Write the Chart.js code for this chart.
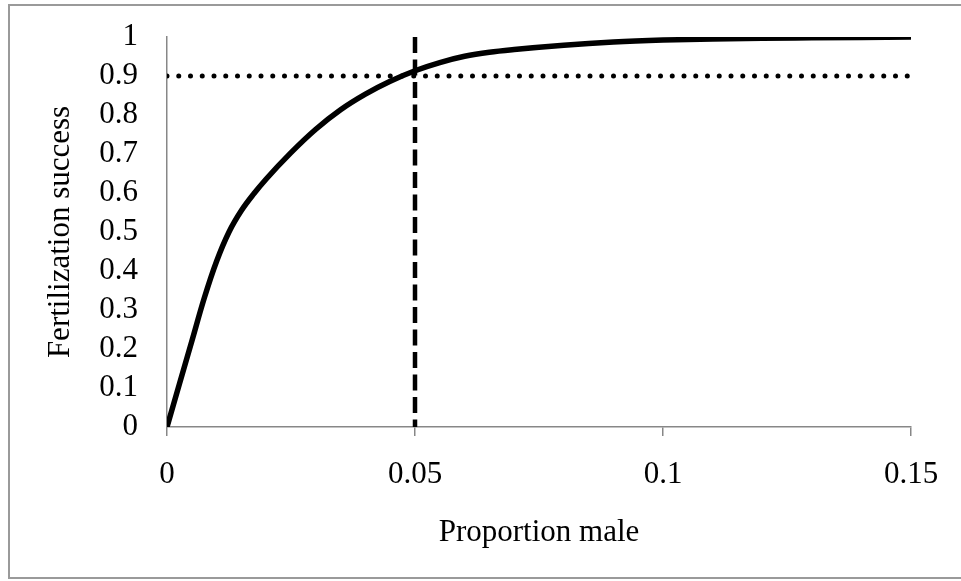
<!DOCTYPE html>
<html>
<head>
<meta charset="utf-8">
<script src="https://cdn.jsdelivr.net/npm/chart.js@4/dist/chart.umd.min.js"></script>
<style>
  html, body { margin: 0; padding: 0; background: #fff; }
  #wrap { width: 961px; height: 581px; position: relative; }
</style>
</head>
<body>
<div id="wrap"><canvas id="c"></canvas></div>
<script>
// ---- data ----
const proportionMale = [0, 0.0025, 0.005, 0.0075, 0.01, 0.0125, 0.015, 0.0175, 0.02, 0.025, 0.03, 0.035, 0.04, 0.045, 0.05, 0.055, 0.06, 0.065, 0.07, 0.08, 0.09, 0.1, 0.11, 0.12, 0.13, 0.14, 0.15];
const fertilizationSuccess = [0, 0.11, 0.22, 0.33, 0.425, 0.5, 0.555, 0.598, 0.636, 0.7035, 0.7635, 0.8135, 0.8535, 0.8865, 0.9135, 0.9345, 0.9505, 0.961, 0.968, 0.979, 0.987, 0.992, 0.995, 0.997, 0.998, 0.999, 1.0];
const thresholdX = [0, 0.15];
const thresholdY = [0.9, 0.9];
const cutoffX = [0.05, 0.05];
const cutoffY = [1, 0];
const xTickValues = [0, 0.05, 0.1, 0.15];
const xTickLabels = ['0', '0.05', '0.1', '0.15'];
const yTickValues = [0, 0.1, 0.2, 0.3, 0.4, 0.5, 0.6, 0.7, 0.8, 0.9, 1];
const yTickLabels = ['0', '0.1', '0.2', '0.3', '0.4', '0.5', '0.6', '0.7', '0.8', '0.9', '1'];
const xTitle = 'Proportion male';
const yTitle = 'Fertilization success';

const toPts = (xs, ys) => xs.map((x, i) => ({ x: x, y: ys[i] }));
const FONT = 'Liberation Serif, Times New Roman, serif';
const AXIS = '#878787';

const framePlugin = {
  id: 'frame',
  beforeDraw(chart) {
    const ctx = chart.ctx;
    ctx.save();
    ctx.fillStyle = '#fff';
    ctx.fillRect(0, 0, chart.width, chart.height);
    ctx.strokeStyle = '#9a9a9a';
    ctx.lineWidth = 2;
    ctx.strokeRect(9, 5, 1000, 573);
    ctx.restore();
  }
};

new Chart(document.getElementById('c'), {
  type: 'scatter',
  data: {
    datasets: [
      {
        data: toPts(thresholdX, thresholdY),
        showLine: true,
        borderColor: '#000',
        borderWidth: 5,
        borderDash: [0, 11.75],
        borderCapStyle: 'round',
        pointRadius: 0,
        order: 3
      },
      {
        data: toPts(cutoffX, cutoffY),
        showLine: true,
        borderColor: '#000',
        borderWidth: 4.5,
        borderDash: [16, 6.5],
        borderCapStyle: 'butt',
        pointRadius: 0,
        clip: false,
        order: 2
      },
      {
        data: toPts(proportionMale, fertilizationSuccess),
        showLine: true,
        borderColor: '#000',
        borderWidth: 5.5,
        cubicInterpolationMode: 'monotone',
        pointRadius: 0,
        order: 1
      }
    ]
  },
  options: {
    responsive: true,
    maintainAspectRatio: false,
    animation: false,
    events: [],
    layout: { padding: { top: 37, right: 50, left: 0, bottom: 0 } },
    plugins: { legend: { display: false }, tooltip: { enabled: false } },
    scales: {
      x: {
        type: 'linear',
        min: 0, max: 0.15,
        afterFit(s) { s.height = 154; },
        afterBuildTicks(s) { s.ticks = xTickValues.map(v => ({ value: v })); },
        grid: { drawOnChartArea: false, drawTicks: true, tickLength: 9, color: AXIS, lineWidth: 1.5 },
        border: { display: true, color: AXIS, width: 1.5 },
        ticks: {
          color: '#000', padding: 20, maxRotation: 0, autoSkip: false,
          font: { family: FONT, size: 31 },
          callback: (v, i) => xTickLabels[i]
        },
        title: {
          display: true, text: xTitle, color: '#000',
          font: { family: FONT, size: 31 },
          padding: { top: 0, bottom: 30 }
        }
      },
      y: {
        type: 'linear',
        min: 0, max: 1,
        afterFit(s) { s.width = 167; },
        afterBuildTicks(s) { s.ticks = yTickValues.map(v => ({ value: v })); },
        grid: { drawOnChartArea: false, drawTicks: true, tickLength: 29, tickColor: 'rgba(0,0,0,0)' },
        border: { display: true, color: AXIS, width: 1.5 },
        ticks: {
          color: '#000', padding: 0, autoSkip: false,
          font: { family: FONT, size: 31 },
          callback: (v, i) => yTickLabels[i]
        },
        title: {
          display: true, text: yTitle, color: '#000',
          font: { family: FONT, size: 31 },
          padding: { top: 42, bottom: 0 }
        }
      }
    }
  },
  plugins: [framePlugin]
});
</script>
</body>
</html>
